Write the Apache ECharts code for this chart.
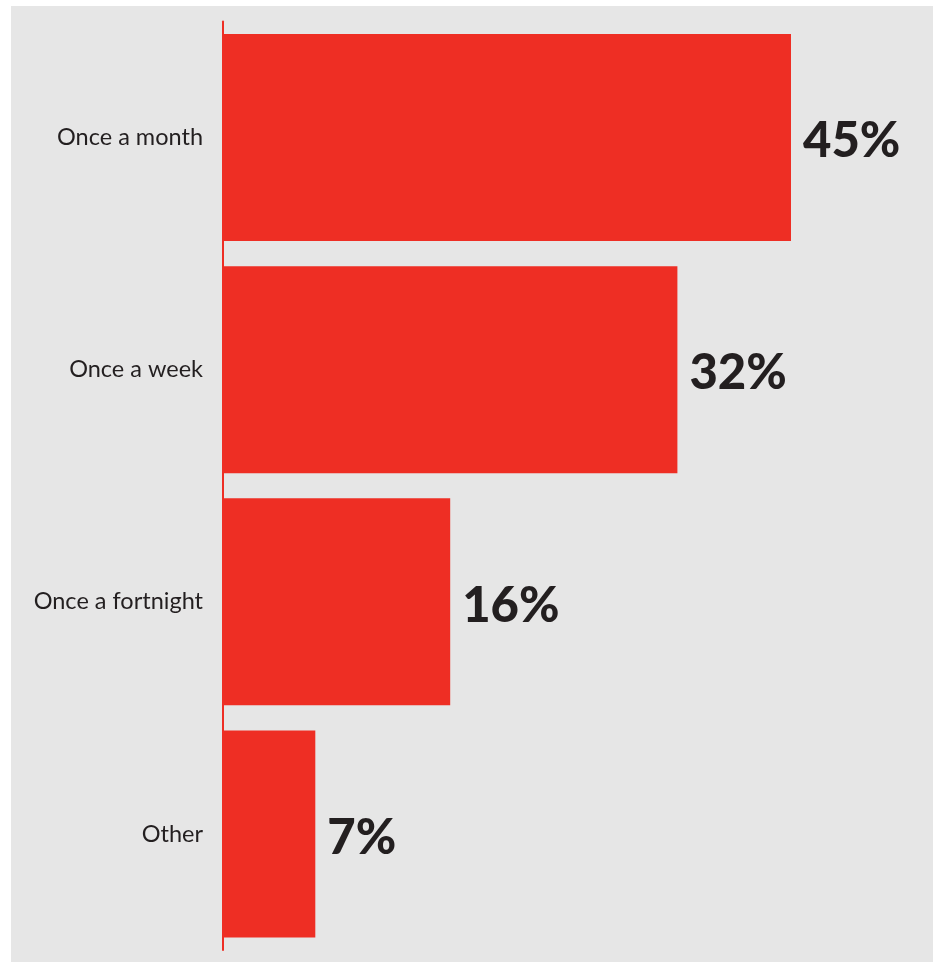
<!DOCTYPE html>
<html>
<head>
<meta charset="utf-8">
<script src="https://cdn.jsdelivr.net/npm/echarts@6/dist/echarts.min.js"></script>
<style>
  html, body { margin: 0; padding: 0; background: #ffffff; }
  #panel { position: absolute; left: 11px; top: 6px; width: 922px; height: 956px; background: #e6e6e6; }
  #chart { position: absolute; left: 0; top: 0; width: 938px; height: 965px; }
</style>
</head>
<body>
<div id="panel"></div>
<div id="chart"></div>
<script>
const categories = ['Once a month', 'Once a week', 'Once a fortnight', 'Other']
// bar lengths as drawn in the picture (the 45% bar is drawn shorter than scale)
const barLengths = [40, 32, 16, 6.5]
const valueLabels = ['45%', '32%', '16%', '7%']

const RED = '#ee2e24'
const INK = '#231f20'

const chart = echarts.init(document.getElementById('chart'))
chart.setOption({
  animation: false,
  backgroundColor: 'transparent',
  grid: { left: 223, right: 5, top: 21.5, bottom: 15, containLabel: false },
  xAxis: {
    type: 'value',
    min: 0,
    max: 50,
    show: false
  },
  yAxis: {
    type: 'category',
    data: categories,
    inverse: true,
    axisLine: { show: true, lineStyle: { color: RED, width: 2 } },
    axisTick: { show: false },
    axisLabel: {
      margin: 20,
      fontSize: 23.5,
      fontWeight: 400,
      color: INK,
      fontFamily: 'Lato',
      padding: [8, 0, 0, 0]
    },
    splitLine: { show: false }
  },
  series: [{
    type: 'bar',
    data: barLengths,
    barCategoryGap: '10.8%',
    itemStyle: { color: RED },
    label: {
      show: true,
      position: 'right',
      distance: 12,
      offset: [0, 4],
      formatter: (p) => valueLabels[p.dataIndex],
      fontSize: 49,
      fontWeight: 900,
      fontFamily: 'Lato',
      color: INK
    }
  }]
})
</script>
</body>
</html>
